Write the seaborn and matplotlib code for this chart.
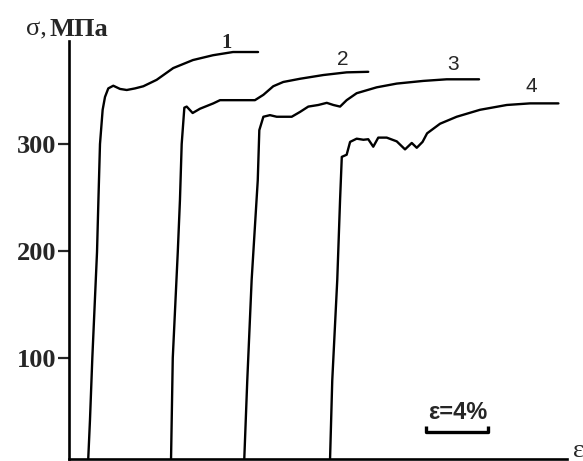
import numpy as np
import pandas as pd
import seaborn as sns
import matplotlib
matplotlib.use("Agg")
import matplotlib.pyplot as plt

# strain, % (shifted curves) and stress, MPa
eps1 = [1.23, 1.34, 1.49, 1.79, 1.88, 1.98, 2.15, 2.30, 2.51, 2.83, 3.26, 3.69,
        4.22, 4.75, 5.60, 6.66, 7.92, 9.20, 10.48, 12.08]
sig1 = [6, 42, 100, 199, 248, 300, 332, 344, 352, 354.5, 351.5, 350.5,
        352, 354, 360, 371, 378.5, 383, 386, 386]

eps2 = [6.52, 6.63, 6.95, 7.09, 7.20, 7.37, 7.52, 7.90, 8.37, 9.22, 9.65, 11.88,
        12.42, 13.05, 13.69, 14.76, 16.25, 17.74, 19.12]
sig2 = [6, 100, 199, 248, 300, 334, 335, 329, 333, 338, 341, 341,
        346, 354, 358, 361, 364.5, 367, 367.5]

eps3 = [11.20, 11.39, 11.67, 12.06, 12.16, 12.42, 12.84, 13.27, 14.23, 14.76,
        15.29, 15.93, 16.47, 16.89, 17.32, 17.74, 18.38, 19.66, 20.94, 22.64,
        24.13, 26.20]
sig3 = [6, 79, 173, 266, 313, 325.5, 327, 325.5, 325.5, 330,
        335, 336.5, 338.5, 336.5, 335, 341, 347.5, 353, 356.5, 359,
        360.5, 360.5]

eps4 = [16.68, 16.82, 17.14, 17.32, 17.43, 17.74, 17.96, 18.38, 18.81, 19.12,
        19.44, 19.76, 20.30, 20.94, 21.47, 21.90, 22.22, 22.59, 22.88, 23.71,
        24.77, 26.26, 27.97, 29.46, 31.27]
sig4 = [6, 79, 173, 248, 288, 290, 302, 305, 304, 304.5,
        297.5, 306, 306, 302.5, 295, 301, 296.5, 302, 310, 319,
        325.5, 332, 336.5, 338, 338]

curve_labels = ["1", "2", "3", "4"]
label_x = [10.08, 17.52, 24.56, 29.57]
label_y = [394, 379, 374, 354]

yticks = [100, 200, 300]
scale_start = 22.79
scale_len = 4  # %

frames = []
for name, e, s in zip(curve_labels, [eps1, eps2, eps3, eps4], [sig1, sig2, sig3, sig4]):
    frames.append(pd.DataFrame({"eps": e, "sigma": s, "curve": name}))
df = pd.concat(frames, ignore_index=True)

sns.set_style("white")
plt.rcParams["font.family"] = ["Liberation Serif", "DejaVu Serif"]

fig = plt.figure(figsize=(5.83, 4.61), dpi=100)
ax = fig.add_axes([69 / 583, 2.3 / 461, (566.7 - 69) / 583, (458.7 - 41) / 461])

sns.lineplot(data=df, x="eps", y="sigma", units="curve", estimator=None,
             sort=False, color="black", linewidth=1.7, ax=ax, legend=False)

for lab, lx, ly in zip(curve_labels, label_x, label_y):
    if lab == "1":
        ax.text(lx, ly, lab, ha="center", va="center", fontsize=15,
                fontweight="bold", family="Liberation Serif")
    else:
        ax.text(lx, ly, lab, ha="center", va="center", fontsize=15,
                family="Liberation Sans")

ax.set_xlim(0, 31.8)
ax.set_ylim(5.9, 396.3)
ax.set_xticks([])
ax.set_yticks(yticks)
ax.set_yticklabels([str(t) for t in yticks], fontsize=19, fontweight="bold")
ax.tick_params(axis="y", length=8, width=1.6, direction="out", pad=1, left=True)
ax.set_xlabel("")
ax.set_ylabel("")

sns.despine(ax=ax)
for sp in ["left", "bottom"]:
    ax.spines[sp].set_linewidth(1.9)
    ax.spines[sp].set_color("black")

# axis titles
fig.text(26 / 583, 1 - 29 / 461, "σ,", fontsize=19, va="center", ha="left")
fig.text(49 / 583, 1 - 29 / 461, "МПа", fontsize=19, fontweight="bold",
         va="center", ha="left")
ax.text(32.2, 13, "ε", fontsize=19, ha="left", va="center", clip_on=False)

# scale bar
ax.plot([scale_start, scale_start, scale_start + scale_len, scale_start + scale_len],
        [36, 30.6, 30.6, 36], color="black", linewidth=2.4, solid_capstyle="butt")
ax.text(scale_start + scale_len / 2 + 0.05, 49, "ε=4%", fontsize=17, ha="center",
        va="center", family="Liberation Sans", fontweight="bold")

fig.savefig("out.png", dpi=100)
